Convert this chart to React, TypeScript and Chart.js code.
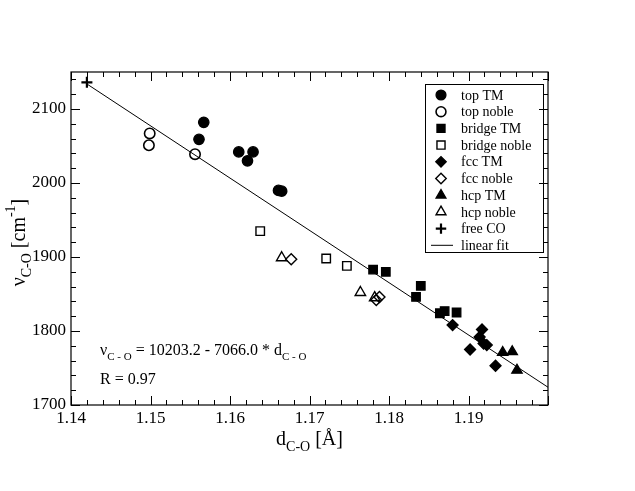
import { useEffect, useRef } from 'react';
import { Chart, registerables } from 'chart.js';
import { drawPoint } from 'chart.js/helpers';

Chart.register(...registerables);

const SERIF = '"Liberation Serif", "DejaVu Serif", serif';

// [d_C-O (Å), ν_C-O (cm^-1)]
const TOP_TM: [number, number][] = [
  [1.1567, 2082], [1.1561, 2059], [1.1611, 2042], [1.1629, 2042],
  [1.1622, 2030], [1.1661, 1990], [1.1665, 1989],
];
const TOP_NOBLE: [number, number][] = [[1.1499, 2067], [1.1498, 2051], [1.1556, 2039]];
const BRIDGE_TM: [number, number][] = [
  [1.178, 1883], [1.1796, 1880], [1.184, 1861], [1.1834, 1846],
  [1.1864, 1824], [1.187, 1827], [1.1885, 1825],
];
const BRIDGE_NOBLE: [number, number][] = [[1.1638, 1935], [1.1721, 1898], [1.1747, 1888]];
const FCC_TM: [number, number][] = [
  [1.188, 1808], [1.1917, 1802], [1.1914, 1792], [1.1919, 1783],
  [1.1923, 1781], [1.1902, 1775], [1.1934, 1753],
];
const FCC_NOBLE: [number, number][] = [[1.1677, 1897], [1.1784, 1842], [1.1788, 1846]];
const HCP_TM: [number, number][] = [[1.1943, 1771], [1.1955, 1772], [1.1961, 1747]];
const HCP_NOBLE: [number, number][] = [[1.1665, 1899], [1.1764, 1852], [1.1782, 1845]];
const FREE_CO: [number, number][] = [[1.142, 2136]];

// linear fit: nu = FIT_A + FIT_B * d
const FIT_A = 10203.2;
const FIT_B = -7066.0;
const FIT_X = [1.142, 1.2];
const FIT_R = 0.97;

const X_MIN = 1.14;
const X_MAX = 1.2;
const Y_MIN = 1700;
const Y_MAX = 2150;

type Part = { t: string; size: number; dy: number };

function richWidth(ctx: CanvasRenderingContext2D, parts: Part[]) {
  let w = 0;
  for (const p of parts) {
    ctx.font = `${p.size}px ${SERIF}`;
    w += ctx.measureText(p.t).width;
  }
  return w;
}

function drawRich(ctx: CanvasRenderingContext2D, parts: Part[], x: number, y: number) {
  let cx = x;
  ctx.textBaseline = 'alphabetic';
  ctx.textAlign = 'left';
  for (const p of parts) {
    ctx.font = `${p.size}px ${SERIF}`;
    ctx.fillText(p.t, cx, y + p.dy);
    cx += ctx.measureText(p.t).width;
  }
}

const toPts = (arr: [number, number][]) => arr.map(([x, y]) => ({ x, y }));

function markers(label: string, arr: [number, number][], style: string, radius: number, filled: boolean, bw = 1.3) {
  return {
    label,
    data: toPts(arr),
    pointStyle: style,
    pointRadius: radius,
    pointHoverRadius: radius,
    pointBorderWidth: bw,
    borderColor: '#000',
    backgroundColor: filled ? '#000' : 'rgba(0,0,0,0)',
    showLine: false,
  };
}

const framePlugin = {
  id: 'frame',
  afterDraw(chart: any) {
    const { ctx, chartArea: ca, scales } = chart;
    const xs = scales.x;
    const ys = scales.y;
    ctx.save();
    ctx.strokeStyle = '#000';
    ctx.lineWidth = 1.2;
    ctx.strokeRect(ca.left, ca.top, ca.right - ca.left, ca.bottom - ca.top);
    ctx.lineWidth = 1;
    ctx.beginPath();
    for (let i = 0; i <= 30; i++) {
      const v = X_MIN + i * 0.002;
      const px = Math.round(xs.getPixelForValue(v)) + 0.5;
      const len = i % 5 === 0 ? 9 : 5;
      ctx.moveTo(px, ca.bottom);
      ctx.lineTo(px, ca.bottom - len);
      ctx.moveTo(px, ca.top);
      ctx.lineTo(px, ca.top + len);
    }
    for (let v = Y_MIN; v <= Y_MAX; v += 20) {
      const py = Math.round(ys.getPixelForValue(v)) + 0.5;
      const len = v % 100 === 0 ? 9 : 5;
      ctx.moveTo(ca.left, py);
      ctx.lineTo(ca.left + len, py);
      ctx.moveTo(ca.right, py);
      ctx.lineTo(ca.right - len, py);
    }
    ctx.stroke();
    ctx.restore();
  },
};

const textPlugin = {
  id: 'texts',
  afterDraw(chart: any) {
    const { ctx, chartArea: ca } = chart;
    ctx.save();
    ctx.fillStyle = '#000';

    // fit equation
    const a = FIT_A.toFixed(1);
    const b = Math.abs(FIT_B).toFixed(1);
    drawRich(ctx, [
      { t: 'ν', size: 16, dy: 0 },
      { t: 'C - O', size: 11, dy: 5 },
      { t: ` = ${a} - ${b} * d`, size: 16, dy: 0 },
      { t: 'C - O', size: 11, dy: 5 },
    ], ca.left + 29, ca.top + 283);
    drawRich(ctx, [{ t: `R = ${FIT_R.toFixed(2)}`, size: 16, dy: 0 }], ca.left + 29, ca.top + 312);

    // x title
    const xt: Part[] = [
      { t: 'd', size: 20, dy: 0 },
      { t: 'C-O', size: 14, dy: 6 },
      { t: ' [Å]', size: 20, dy: 0 },
    ];
    const xw = richWidth(ctx, xt);
    drawRich(ctx, xt, (ca.left + ca.right) / 2 - xw / 2, ca.bottom + 40);

    // y title
    const yt: Part[] = [
      { t: 'ν', size: 20, dy: 0 },
      { t: 'C-O', size: 14, dy: 6 },
      { t: ' [cm', size: 20, dy: 0 },
      { t: '-1', size: 14, dy: -10 },
      { t: ']', size: 20, dy: 0 },
    ];
    const yw = richWidth(ctx, yt);
    ctx.save();
    ctx.translate(25, (ca.top + ca.bottom) / 2 + 4);
    ctx.rotate(-Math.PI / 2);
    drawRich(ctx, yt, -yw / 2, 0);
    ctx.restore();

    // legend
    const bx = ca.right - 123;
    const by = ca.top + 12;
    const bw = 118;
    const bh = 168;
    ctx.lineWidth = 1;
    ctx.strokeStyle = '#000';
    ctx.strokeRect(bx + 0.5, by + 0.5, bw, bh);
    const rowH = 16.7;
    chart.data.datasets.forEach((ds: any, i: number) => {
      const cy = by + 11 + i * rowH;
      const sx = bx + 16;
      if (ds.pointStyle && ds.showLine === false) {
        ctx.fillStyle = ds.backgroundColor;
        ctx.strokeStyle = ds.borderColor;
        ctx.lineWidth = ds.pointBorderWidth;
        drawPoint(ctx, { pointStyle: ds.pointStyle, radius: ds.pointRadius * 0.95, borderWidth: ds.pointBorderWidth, rotation: 0 } as any, sx, cy);
      } else {
        ctx.strokeStyle = ds.borderColor;
        ctx.lineWidth = ds.borderWidth;
        ctx.beginPath();
        ctx.moveTo(bx + 6, cy);
        ctx.lineTo(bx + 28, cy);
        ctx.stroke();
      }
      ctx.fillStyle = '#000';
      ctx.font = `14px ${SERIF}`;
      ctx.textAlign = 'left';
      ctx.textBaseline = 'middle';
      ctx.fillText(ds.label, bx + 36, cy + 1);
    });
    ctx.restore();
  },
};

export default function App() {
  const canvasRef = useRef<HTMLCanvasElement>(null);
  const chartRef = useRef<Chart | null>(null);

  useEffect(() => {
    if (!canvasRef.current) return;
    if (chartRef.current) chartRef.current.destroy();

    chartRef.current = new Chart(canvasRef.current, {
      type: 'scatter',
      data: {
        datasets: [
          markers('top TM', TOP_TM, 'circle', 5.2, true),
          markers('top noble', TOP_NOBLE, 'circle', 5.2, false, 1.6),
          markers('bridge TM', BRIDGE_TM, 'rect', 6, true),
          markers('bridge noble', BRIDGE_NOBLE, 'rect', 6, false, 1.4),
          markers('fcc TM', FCC_TM, 'rectRot', 5.5, true),
          markers('fcc noble', FCC_NOBLE, 'rectRot', 5.5, false, 1.4),
          markers('hcp TM', HCP_TM, 'triangle', 6, true),
          markers('hcp noble', HCP_NOBLE, 'triangle', 6, false, 1.4),
          markers('free CO', FREE_CO, 'cross', 5.5, true, 2.2),
          {
            label: 'linear fit',
            type: 'line',
            data: FIT_X.map((x) => ({ x, y: FIT_A + FIT_B * x })),
            borderColor: '#000',
            borderWidth: 1,
            pointRadius: 0,
            showLine: true,
            fill: false,
          } as any,
        ],
      },
      options: {
        responsive: false,
        animation: false,
        devicePixelRatio: 1,
        layout: { padding: { left: 0, top: 72, right: 87, bottom: 0 } },
        plugins: {
          legend: { display: false },
          tooltip: { enabled: false },
        },
        scales: {
          x: {
            type: 'linear',
            min: X_MIN,
            max: X_MAX,
            afterFit: (s: any) => { s.height = 86; },
            grid: { display: false, drawTicks: false },
            border: { display: false },
            ticks: {
              stepSize: 0.01,
              padding: 3,
              color: '#000',
              font: { family: SERIF, size: 17 },
              maxRotation: 0,
              callback: (v: any) => {
                const n = Number(v);
                if (n > 1.195) return '';
                return n.toFixed(2);
              },
            },
          },
          y: {
            type: 'linear',
            min: Y_MIN,
            max: Y_MAX,
            afterFit: (s: any) => { s.width = 71; },
            grid: { display: false, drawTicks: false },
            border: { display: false },
            ticks: {
              stepSize: 100,
              padding: 5,
              color: '#000',
              font: { family: SERIF, size: 17 },
              callback: (v: any) => (Number(v) % 100 === 0 ? String(v) : ''),
            },
          },
        },
      },
      plugins: [framePlugin, textPlugin],
    });

    return () => {
      if (chartRef.current) {
        chartRef.current.destroy();
        chartRef.current = null;
      }
    };
  }, []);

  return (
    <div style={{ position: 'absolute', left: 0, top: 0, width: 635, height: 491, background: '#fff' }}>
      <canvas ref={canvasRef} width={635} height={491} style={{ width: 635, height: 491 }} />
    </div>
  );
}
